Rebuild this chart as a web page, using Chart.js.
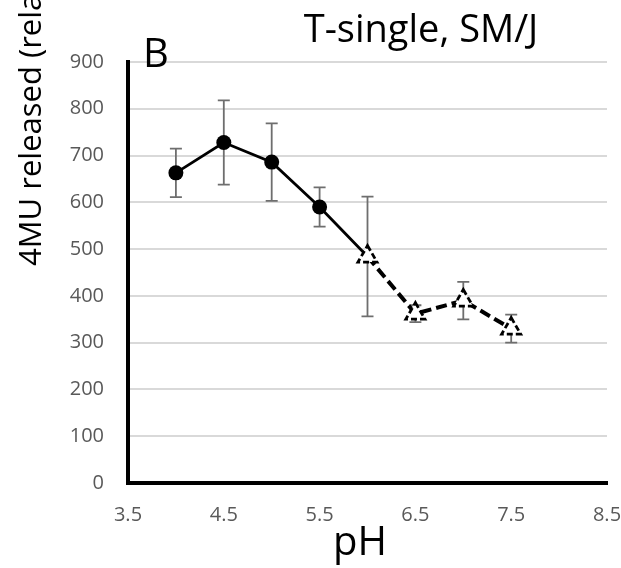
<!DOCTYPE html>
<html>
<head>
<meta charset="utf-8">
<script src="https://cdn.jsdelivr.net/npm/chart.js@4/dist/chart.umd.min.js"></script>
<style>
html,body{margin:0;padding:0;background:#fff;}
#wrap{width:621px;height:568px;position:relative;}
</style>
</head>
<body>
<div id="wrap"><canvas id="c" width="621" height="568"></canvas></div>
<script>
// ---- data ----
const phSolid = [4.0, 4.5, 5.0, 5.5, 6.0];
const releaseSolid = [663, 728, 686, 590, 484];
const errSolid = [52, 90, 83, 42, 128];
const phDashed = [6.0, 6.5, 7.0, 7.5];
const releaseDashed = [484, 362, 390, 330];
const errDashed = [128, 18, 40, 30];
const xTicks = [3.5, 4.5, 5.5, 6.5, 7.5, 8.5];
const yTicks = [0, 100, 200, 300, 400, 500, 600, 700, 800, 900];
const titleText = 'T-single, SM/J';
const panelLetter = 'B';
const xLabel = 'pH';
const yLabel = '4MU released (relative units)';

const FONT = "'Open Sans', 'DejaVu Sans', sans-serif";

const solidData = phSolid.map((x, i) => ({x, y: releaseSolid[i], e: errSolid[i]}));
const dashedData = phDashed.map((x, i) => ({x, y: releaseDashed[i], e: errDashed[i]}));

const errorBars = {
  id: 'errorBars',
  beforeDatasetsDraw(chart) {
    const {ctx, scales: {x, y}} = chart;
    ctx.save();
    ctx.strokeStyle = '#6e6e6e';
    ctx.lineWidth = 1.8;
    const all = [...solidData, ...dashedData.slice(1)];
    all.forEach(p => {
      const px = x.getPixelForValue(p.x);
      const top = y.getPixelForValue(p.y + p.e);
      const bot = y.getPixelForValue(p.y - p.e);
      ctx.beginPath();
      ctx.moveTo(px, top); ctx.lineTo(px, bot);
      ctx.moveTo(px - 6, top); ctx.lineTo(px + 6, top);
      ctx.moveTo(px - 6, bot); ctx.lineTo(px + 6, bot);
      ctx.stroke();
    });
    ctx.restore();
  }
};

// dashed outline for the triangle markers of the dashed series
const dashedMarkers = {
  id: 'dashedMarkers',
  beforeDatasetDraw(chart, args) {
    if (args.index === 1) chart.ctx.setLineDash([6, 3]);
  },
  afterDatasetDraw(chart, args) {
    if (args.index === 1) chart.ctx.setLineDash([]);
  }
};

const texts = {
  id: 'texts',
  afterDraw(chart) {
    const {ctx} = chart;
    ctx.save();
    ctx.fillStyle = '#000';
    ctx.textBaseline = 'alphabetic';
    ctx.font = `38px ${FONT}`;
    ctx.textAlign = 'center';
    ctx.fillText(titleText, 421, 42);
    ctx.font = `40px ${FONT}`;
    ctx.textAlign = 'left';
    ctx.fillText(panelLetter, 143, 67);
    ctx.font = `40px ${FONT}`;
    ctx.textAlign = 'center';
    ctx.fillText(xLabel, 360, 555);
    ctx.translate(41, 266);
    ctx.rotate(-Math.PI / 2);
    ctx.textAlign = 'left';
    ctx.font = `31px ${FONT}`;
    ctx.fillText(yLabel, 0, 0);
    ctx.restore();
  }
};

new Chart(document.getElementById('c'), {
  type: 'scatter',
  data: {
    datasets: [
      {
        data: solidData,
        showLine: true,
        borderColor: '#000',
        borderWidth: 2.8,
        backgroundColor: '#000',
        pointBackgroundColor: '#000',
        pointBorderColor: '#000',
        pointStyle: 'circle',
        pointRadius: [7.5, 7.5, 7.5, 7.5, 0],
        pointBorderWidth: 0,
        order: 2
      },
      {
        data: dashedData,
        showLine: true,
        borderColor: '#000',
        borderWidth: 4,
        borderDash: [11, 5],
        pointStyle: 'triangle',
        pointRadius: 11,
        pointBackgroundColor: '#fff',
        pointBorderColor: '#000',
        pointBorderWidth: 2.8,
        order: 1
      }
    ]
  },
  options: {
    responsive: false,
    animation: false,
    events: [],
    layout: {padding: {top: 62, right: 14, left: 0, bottom: 0}},
    plugins: {legend: {display: false}, tooltip: {enabled: false}, title: {display: false}},
    scales: {
      x: {
        type: 'linear',
        min: 3.5, max: 8.5,
        afterBuildTicks(scale) { scale.ticks = xTicks.map(v => ({value: v})); },
        afterFit(scale) { scale.height = 85; scale.paddingLeft = 0; scale.paddingRight = 0; },
        grid: {display: false, drawTicks: false},
        border: {display: true, color: '#000', width: 4},
        ticks: {
          padding: 20,
          color: '#595959',
          font: {family: FONT, size: 20},
          callback: v => Number(v).toFixed(1)
        }
      },
      y: {
        min: 0, max: 900,
        afterBuildTicks(scale) { scale.ticks = yTicks.map(v => ({value: v})); },
        afterFit(scale) { scale.width = 128; scale.paddingTop = 0; scale.paddingBottom = 0; },
        grid: {color: '#d9d9d9', lineWidth: 2, drawTicks: false},
        border: {display: true, color: '#000', width: 4},
        ticks: {
          padding: 24,
          color: '#595959',
          font: {family: FONT, size: 20},
          callback: v => String(v)
        }
      }
    }
  },
  plugins: [errorBars, dashedMarkers, texts]
});
</script>
</body>
</html>
